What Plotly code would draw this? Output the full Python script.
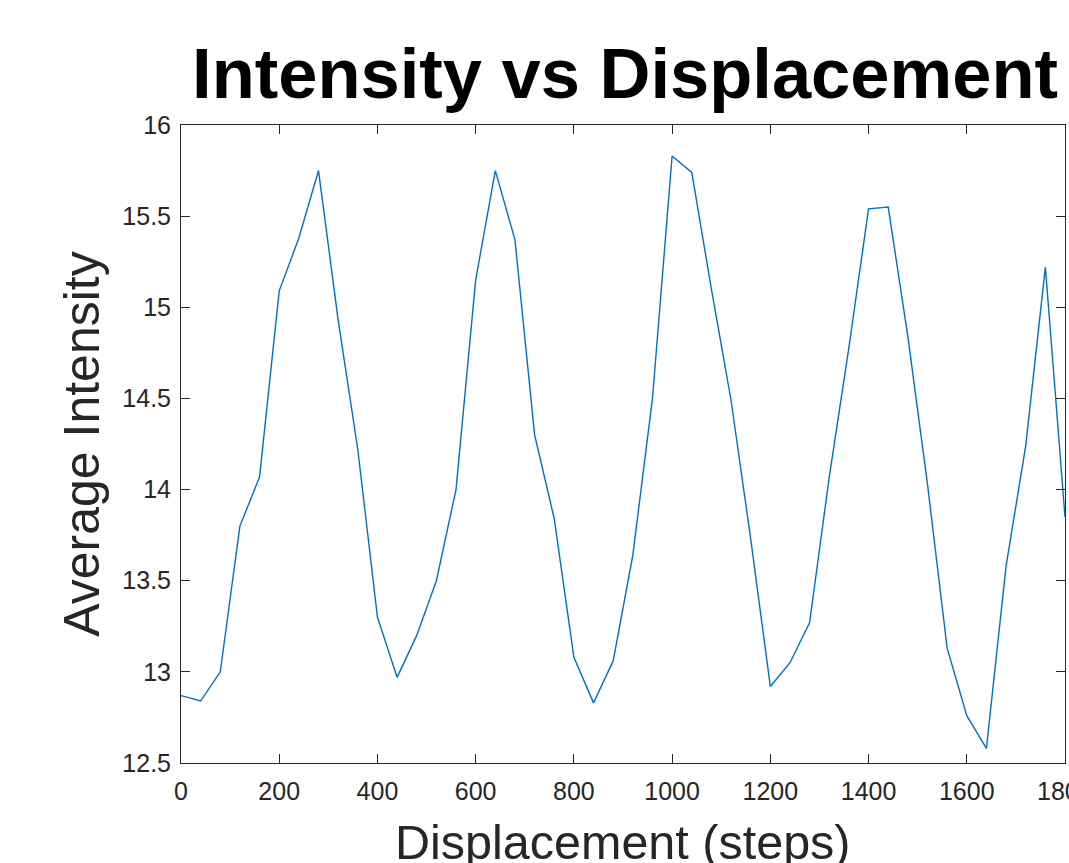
import plotly.graph_objects as go

displacement = [0, 40, 80, 120, 160, 200, 240, 280, 320, 360, 400, 440, 480, 520, 560,
                 600, 640, 680, 720, 760, 800, 840, 880, 920, 960, 1000, 1040, 1080, 1120,
                 1160, 1200, 1240, 1280, 1320, 1360, 1400, 1440, 1480, 1520, 1560, 1600,
                 1640, 1680, 1720, 1760, 1800]
intensity = [12.87, 12.84, 13.00, 13.80, 14.07, 15.09, 15.38, 15.75, 14.93, 14.22,
             13.30, 12.97, 13.20, 13.50, 14.00, 15.15, 15.75, 15.37, 14.30, 13.84,
             13.08, 12.83, 13.06, 13.64, 14.50, 15.83, 15.74, 15.10, 14.49, 13.73,
             12.92, 13.05, 13.27, 14.07, 14.78, 15.54, 15.55, 14.84, 14.03, 13.13,
             12.76, 12.58, 13.58, 14.24, 15.22, 13.85]
x_ticks = [0, 200, 400, 600, 800, 1000, 1200, 1400, 1600, 1800]
y_ticks = [12.5, 13, 13.5, 14, 14.5, 15, 15.5, 16]

title_text = "Intensity vs Displacement"
x_label = "Displacement (steps)"
y_label = "Average Intensity"

AX = "#262626"
FONT = "Liberation Sans, Arial, Helvetica, sans-serif"

fig = go.Figure()
fig.add_trace(go.Scatter(x=displacement, y=intensity, mode="lines",
                         line=dict(color="#0072BD", width=1.4),
                         showlegend=False, hoverinfo="skip", cliponaxis=False))

axis_common = dict(
    showgrid=False, zeroline=False, showline=True, linecolor=AX, linewidth=1,
    mirror="ticks", ticks="inside", ticklen=9, tickwidth=1, tickcolor=AX,
    tickfont=dict(family=FONT, size=25, color=AX), automargin=False,
)

fig.update_layout(
    width=1069, height=863,
    paper_bgcolor="white", plot_bgcolor="white",
    margin=dict(l=181, r=4, t=125, b=100, pad=0),
    title=dict(text="<b>" + title_text + "</b>", x=625 / 1069, xref="container",
               xanchor="center", y=1 - 73 / 863, yref="container", yanchor="middle",
               font=dict(family=FONT, size=70.5, color="black"), automargin=False),
    xaxis=dict(range=[0, 1800], tickvals=x_ticks, ticktext=[str(v) for v in x_ticks],
               ticklabelstandoff=6, **axis_common),
    yaxis=dict(range=[12.5, 16], tickvals=y_ticks, ticktext=[f"{v:g}" for v in y_ticks],
               title=dict(text=y_label, font=dict(family=FONT, size=50, color=AX), standoff=6),
               ticklabelstandoff=4, **axis_common),
)

# x-axis title, placed like the reference (its descenders run off the bottom edge)
fig.add_annotation(x=0.5, xref="paper", y=0, yref="paper", yanchor="top",
                   xanchor="center", yshift=-50, text=x_label, showarrow=False,
                   font=dict(family=FONT, size=48.5, color=AX))

# last x tick label, which the reference shows cut by the right edge of the picture
fig.add_annotation(x=x_ticks[-1], xref="x", y=0, yref="paper", yanchor="top",
                   xanchor="center", yshift=-12, text=str(x_ticks[-1]), showarrow=False,
                   font=dict(family=FONT, size=25, color=AX))

fig.write_html("out.html", config={"displayModeBar": False},
               post_script="document.body.style.margin='0';")
